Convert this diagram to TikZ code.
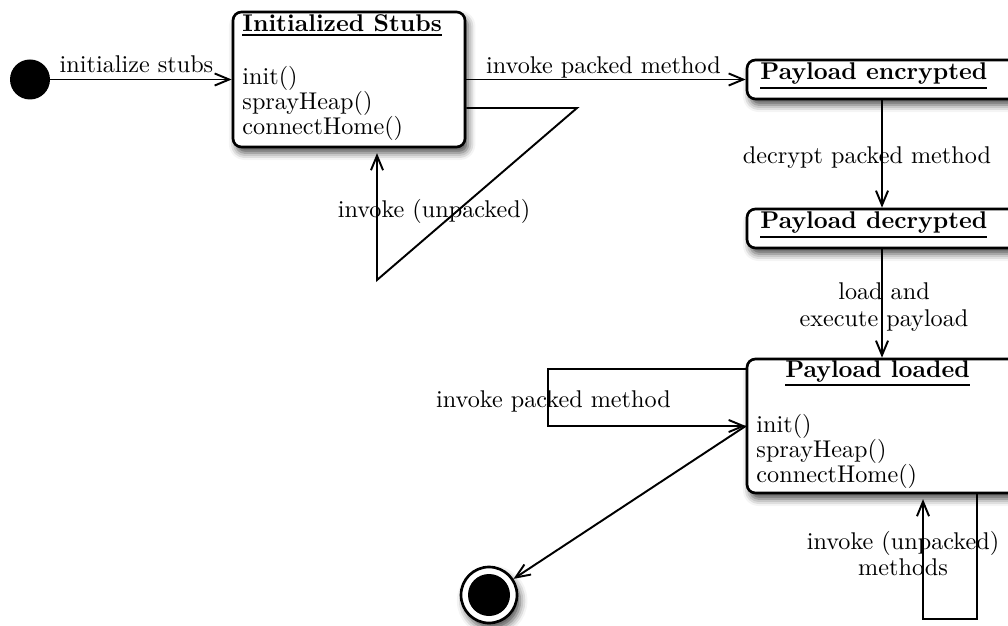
\documentclass[tikz,border=0pt]{standalone}
\usetikzlibrary{arrows.meta,shadows.blur}
\newcommand\pxu{0.4132}
\newcommand\ulbold[1]{\setbox0=\hbox{\textbf{#1}}\leavevmode\rlap{\raisebox{\dimexpr-\dp0-1.6pt\relax}{\rule{\wd0}{0.9pt}}}\box0}
\begin{document}
\begin{tikzpicture}[x=0.4132pt,y=-0.4132pt,
  tr/.style={line width=0.8pt,-{Straight Barb[length=6pt,width=5pt]}},
  state/.style={draw, line width=1.1pt, rounded corners=3.5pt, fill=white, inner sep=0pt,
    blur shadow={shadow xshift=1.3pt,shadow yshift=-2.4pt,shadow blur radius=3pt,shadow opacity=70}},
  lbl/.style={font=\fontsize{10}{12}\selectfont, inner sep=0pt, anchor=base},
  txt/.style={font=\fontsize{10}{12}\selectfont, inner sep=0pt, anchor=base west},
  ]
\useasboundingbox (0,0) rectangle (1008,626);

% states
\node[state, minimum width={232*\pxu pt}, minimum height={135*\pxu pt}] (stubs) at (349,79.5) {};
\node[state, minimum width={270*\pxu pt}, minimum height={39*\pxu pt}] (enc) at (882,79.5) {};
\node[state, minimum width={270*\pxu pt}, minimum height={39*\pxu pt}] (dec) at (882,228.5) {};
\node[state, minimum width={270*\pxu pt}, minimum height={134*\pxu pt}] (loaded) at (882,426) {};

\node[circle, fill=black, minimum size={40*\pxu pt}, inner sep=0pt] (init) at (30,79.5) {};
\node[circle, draw, line width=1.1pt, fill=white, minimum size={56*\pxu pt}, inner sep=0pt,
  blur shadow={shadow xshift=1.3pt,shadow yshift=-2.4pt,shadow blur radius=3pt,shadow opacity=70}] (final) at (489,595) {};
\node[circle, fill=black, minimum size={42*\pxu pt}, inner sep=0pt] (finaldot) at (final) {};

% state texts
\node[txt] (t1) at (242,32) {\ulbold{Initialized Stubs}};
\node[txt] (s1) at (242,85) {init()};
\node[txt] (s2) at (242,110) {sprayHeap()};
\node[txt] (s3) at (242,135) {connectHome()};
\node[txt] (t2) at (760,80) {\ulbold{Payload encrypted}};
\node[txt] (t3) at (760,229) {\ulbold{Payload decrypted}};
\node[lbl] (t4) at (877.5,377) {\ulbold{Payload loaded}};
\node[txt] (p1) at (756,432) {init()};
\node[txt] (p2) at (756,457) {sprayHeap()};
\node[txt] (p3) at (756,482) {connectHome()};

% helper coordinates
\coordinate (a1) at (577,108);
\coordinate (a2) at (377,280);
\coordinate (b1) at (548,369);
\coordinate (b2) at (548,426);
\coordinate (c1) at (977,619);
\coordinate (c2) at (923,619);

% transitions
\draw[tr] (init) -- (stubs.west);
\draw[tr] (stubs.east) -- (enc.west);
\draw[tr] (enc.south) -- (dec.north);
\draw[tr] (dec.south) -- (loaded.north);
\draw[tr, shorten >=2pt] (stubs.east |- a1) -- (a1) -- (a2) -- (a2 |- stubs.south);
\draw[tr] (loaded.west |- b1) -- (b1) -- (b2) -- (loaded.west);
\draw[tr] (loaded.west) -- (final);
\draw[tr, shorten >=2pt] (c1 |- loaded.south) -- (c1) -- (c2) -- (c2 |- loaded.south);

% labels
\node[lbl] (l1) at (136.5,73) {initialize stubs};
\node[lbl] (l2) at (603.5,74) {invoke packed method};
\node[lbl] (l3) at (434,218) {invoke (unpacked)};
\node[lbl] (l4) at (867,164) {decrypt packed method};
\node[lbl] (l5a) at (884,300) {load and};
\node[lbl] (l5b) at (884,326) {execute payload};
\node[lbl] (l6) at (553.5,407) {invoke packed method};
\node[lbl] (l7a) at (903,549) {invoke (unpacked)};
\node[lbl] (l7b) at (903,575) {methods};
\end{tikzpicture}
\end{document}
